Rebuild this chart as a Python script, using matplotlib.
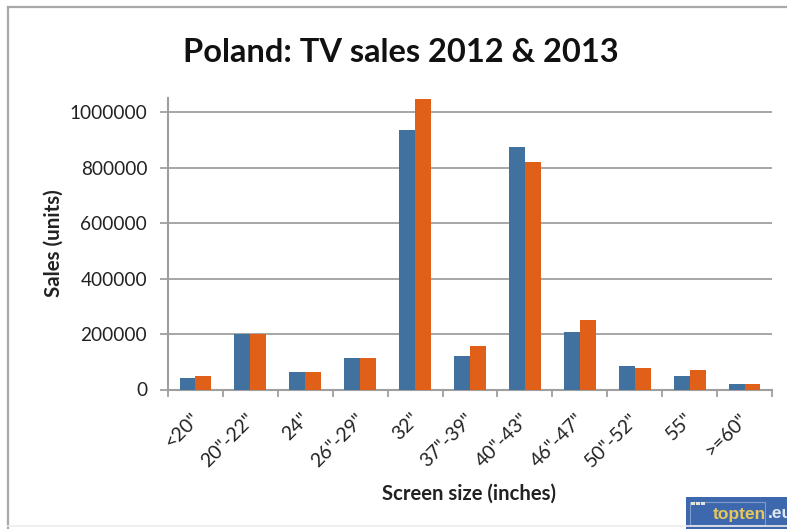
"""Poland TV sales by screen size, 2012 vs 2013."""
import matplotlib
matplotlib.use("Agg")
import matplotlib.pyplot as plt
from matplotlib.lines import Line2D
from matplotlib.patches import Rectangle
from matplotlib.transforms import ScaledTranslation

plt.rcParams["font.family"] = ["Lato", "DejaVu Sans"]

categories = ['<20"', '20"-22"', '24"', '26"-29"', '32"', '37"-39"',
              '40"-43"', '46"-47"', '50"-52"', '55"', '>=60"']
sales_2012 = [42000, 200000, 64000, 114000, 935000, 120000,
              875000, 207000, 85000, 50000, 20000]
sales_2013 = [49000, 200000, 64000, 114000, 1050000, 156000,
              820000, 250000, 78000, 70000, 20000]
y_ticks = [0, 200000, 400000, 600000, 800000, 1000000]

W, H = 787, 529
GRAY = "#9f9f9f"
TEXT = "#222222"

fig = plt.figure(figsize=(W / 100, H / 100), dpi=100)


def frame_line(x0, y0, x1, y1, color, lw):
    fig.add_artist(Line2D([x0 / W, x1 / W], [1 - y0 / H, 1 - y1 / H],
                          color=color, linewidth=lw, transform=fig.transFigure))


# outer chart frame: no right side in the screenshot, bottom nearly washed out
frame_line(8, 7, 787, 7, "#a8a8a8", 1.6)
frame_line(8, 7, 8, 529, "#a8a8a8", 1.6)
frame_line(8, 526, 787, 526, "#ececec", 1.2)

ax = fig.add_axes([168 / W, 1 - 389.5 / H, 604 / W, 291.5 / H])
xs = list(range(len(categories)))
bar_w = 0.29
ax.bar([x - bar_w / 2 for x in xs], sales_2012, bar_w, color="#41719f", zorder=3)
ax.bar([x + bar_w / 2 for x in xs], sales_2013, bar_w, color="#e0601a", zorder=3)

ax.set_xlim(-0.5, len(categories) - 0.5)
ax.set_ylim(0, 1052000)
ax.set_yticks(y_ticks)
ax.set_yticklabels([str(v) for v in y_ticks], fontsize=13.7, color=TEXT)
ax.yaxis.grid(True, color=GRAY, linewidth=1.3, zorder=0)
ax.set_axisbelow(True)

# ticks sit between the categories, labels at the category centres
ax.set_xticks([x - 0.5 for x in xs] + [xs[-1] + 0.5])
ax.set_xticklabels([])
ax.set_xticks(xs, minor=True)
ax.set_xticklabels(categories, minor=True, rotation=45, ha="right", va="top",
                   rotation_mode="anchor", fontsize=14, color=TEXT)
ax.tick_params(axis="x", which="minor", length=0, pad=15)
ax.tick_params(axis="x", which="major", length=5, width=1.3, color=GRAY)
ax.tick_params(axis="y", length=6, width=1.3, color=GRAY, pad=9)

# nudge the slanted labels left, Excel ends them nearer the category centre
nudge = ScaledTranslation(-5 / 100, 0, fig.dpi_scale_trans)
for lab in ax.get_xticklabels(minor=True):
    lab.set_transform(lab.get_transform() + nudge)

for side in ("top", "right"):
    ax.spines[side].set_visible(False)
for side in ("left", "bottom"):
    ax.spines[side].set_color(GRAY)
    ax.spines[side].set_linewidth(1.5)

fig.text(401 / W, 1 - 53 / H, "Poland: TV sales 2012 & 2013", ha="center", va="center",
         fontsize=23.5, fontweight="bold", color="#111111")
fig.text(54 / W, 1 - 243 / H, "Sales (units)", rotation=90, ha="center", va="center",
         fontsize=14.8, fontweight="bold", color=TEXT)
fig.text(469 / W, 1 - 494 / H, "Screen size (inches)", ha="center", va="center",
         fontsize=14.6, fontweight="bold", color=TEXT)

# topten.eu badge, cut off by the right edge
fig.add_artist(Rectangle((686 / W, 0), 101 / W, 32 / H, transform=fig.transFigure,
                         facecolor="#3e68ad", edgecolor="none"))
fig.add_artist(Rectangle((690 / W, 1 - 525 / H), 75 / W, 23 / H, transform=fig.transFigure,
                         fill=False, edgecolor="#7f9ccb", linewidth=0.8))
for dot_x in (691, 696, 701):
    fig.add_artist(Rectangle((dot_x / W, 1 - 505 / H), 4 / W, 3 / H, transform=fig.transFigure,
                             facecolor="#e6e6d8", edgecolor="none"))
fig.text(713 / W, 1 - 514 / H, "topten", ha="left", va="center",
         fontsize=12.5, fontweight="bold", color="#e8c75a", family="Liberation Sans")
fig.text(768 / W, 1 - 514 / H, ".eu", ha="left", va="center",
         fontsize=12.5, fontweight="bold", color="#dfe6f2", family="Liberation Sans")

fig.savefig("out.png", dpi=100)
